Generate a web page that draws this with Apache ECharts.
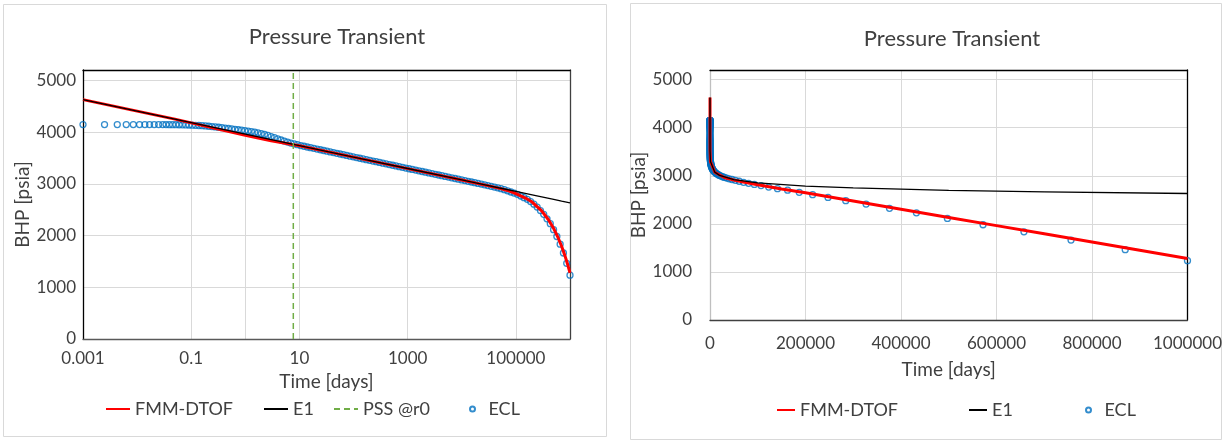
<!DOCTYPE html>
<html>
<head>
<meta charset="utf-8">
<title>Pressure Transient</title>
<script src="https://cdn.jsdelivr.net/npm/echarts@6/dist/echarts.min.js"></script>
<style>
    html, body { margin: 0; padding: 0; background: #fff; }
    #chart { width: 1225px; height: 442px; }
</style>
</head>
<body>
<div id="chart"></div>
<script>
    // ECL simulator output (time in days, BHP in psia)
    const eclTime = [
        0.001, 0.0025, 0.0043, 0.0063, 0.0085, 0.0111, 0.0139, 0.017, 0.0207, 0.025,
        0.02976, 0.03422, 0.03935, 0.04526, 0.05205, 0.05985, 0.06883, 0.07916, 0.09103,
        0.1047, 0.1204, 0.1384, 0.1592, 0.1831, 0.2105, 0.2421, 0.2784, 0.3202, 0.3682, 0.4235, 0.487, 0.56, 0.644, 0.7406, 0.8517, 0.9795,
        1.126, 1.295, 1.49, 1.713, 1.97, 2.265, 2.605, 2.996, 3.445, 3.962, 4.557, 5.24, 6.026, 6.93, 7.97, 9.165,
        10.54, 12.12, 13.94, 16.03, 18.43, 21.2, 24.38, 28.03, 32.24, 37.07, 42.63, 49.03, 56.38, 64.84, 74.57, 85.75, 98.61,
        113.4, 130.4, 150, 172.5, 198.3, 228.1, 262.3, 301.6, 346.9, 398.9, 458.7, 527.6, 606.7, 697.7, 802.3, 922.7,
        1061, 1220, 1403, 1614, 1856, 2134, 2455, 2823, 3246, 3733, 4293, 4937, 5678, 6529, 7509, 8635, 9930,
        11420, 13130, 15100, 17370, 19970, 22970, 26420, 30380, 34940, 40180, 46200, 53130, 61100, 70270, 80810, 92930,
        106900, 122900, 141300, 162500, 186900, 214900, 247200, 284300, 326900, 375900, 432300, 497200, 571800, 657500, 756100, 869600, 1000000
    ];
    const eclBhp = [
        4145, 4145, 4145, 4145, 4145, 4145, 4145, 4145, 4145, 4145,
        4145, 4145, 4144, 4144, 4143, 4142, 4141, 4139, 4137,
        4134, 4131, 4127, 4123, 4118, 4113, 4107, 4100, 4093, 4085, 4077, 4069, 4061, 4053, 4045, 4037, 4028,
        4019, 4009, 3998, 3985, 3970, 3954, 3935, 3914, 3892, 3869, 3847, 3826, 3806, 3788, 3772, 3757,
        3740, 3726, 3712, 3698, 3685, 3671, 3658, 3644, 3630, 3617, 3603, 3590, 3576, 3563, 3549, 3535, 3521,
        3508, 3494, 3481, 3467, 3454, 3440, 3427, 3413, 3399, 3386, 3372, 3359, 3345, 3332, 3318, 3305,
        3291, 3278, 3265, 3251, 3238, 3224, 3211, 3197, 3184, 3170, 3157, 3143, 3130, 3116, 3103, 3089, 3076,
        3062, 3048, 3035, 3021, 3008, 2994, 2980, 2966, 2952, 2937, 2922, 2905, 2886, 2864, 2842, 2820,
        2796, 2764, 2732, 2700, 2656, 2606, 2550, 2482, 2411, 2323, 2229, 2113, 1981, 1834, 1662, 1462, 1233
    ];

    // FMM-DTOF solution
    const fmmTime = [0.001, 0.01, 0.05, 0.1, 0.3, 1, 3, 10, 100, 1000, 10000, 30000, 50000, 70000, 100000,
        150000, 200000, 300000, 400000, 500000, 600000, 700000, 800000, 900000, 1000000];
    const fmmBhp = [4627, 4405, 4250, 4178, 4062, 3938, 3834, 3734, 3516, 3294, 3073, 2965, 2912, 2872, 2812,
        2725, 2647, 2476, 2305, 2134, 1963, 1792, 1621, 1450, 1280];

    // E1 (infinite acting) solution
    const e1Time = [0.001, 0.01, 0.1, 1, 10, 100, 1000, 10000, 20000, 50000, 100000, 200000, 300000, 500000, 700000, 1000000];
    const e1Bhp = [4627, 4405, 4183, 3962, 3740, 3518, 3296, 3075, 3008, 2919, 2853, 2786, 2747, 2698, 2665, 2631];

    // PSS @r0 marker
    const pssTime = [7.7, 7.7];
    const pssBhp = [0, 5200];

    const logTickLabels = ['0.001', '0.1', '10', '1000', '100000'];

    const zip = (xs, ys) => xs.map((x, i) => [x, ys[i]]);

    const FONT = 'Lato';
    const TXT = '#404040';
    const GRID_LINE = '#D9D9D9';
    const ECL_BLUE = '#0070C0';

    const chart = echarts.init(document.getElementById('chart'));

    // one legend per entry so each sits where Excel put it
    function legendItem (name, left, top, w, h, isLine) {
        let lg = {
            data: [name], left: left, top: top, padding: 0,
            itemWidth: w, itemHeight: h, selectedMode: false,
            textStyle: { fontFamily: FONT, fontSize: 18, color: TXT }
        };
        if (isLine) {
            lg.itemStyle = { opacity: 0 };
        }
        return lg;
    }

    function borderAxis (gridIndex, position, color) {
        return {
            gridIndex: gridIndex, type: 'value', position: position, min: 0, max: 1,
            axisLine: { show: true, onZero: false, lineStyle: { color: color, width: 1.3 } },
            axisTick: { show: false }, axisLabel: { show: false }, splitLine: { show: false }
        };
    }

    const yAxisBase = (gridIndex, margin, nameGap, lineColor) => ({
        gridIndex: gridIndex,
        type: 'value',
        min: 0,
        max: 5200,
        interval: 1000,
        name: 'BHP [psia]',
        nameLocation: 'middle',
        nameGap: nameGap,
        nameTextStyle: { fontFamily: FONT, fontSize: 19, color: TXT },
        axisLine: { show: true, onZero: false, lineStyle: { color: lineColor, width: 1.3 } },
        axisTick: { show: false },
        axisLabel: {
            margin: margin, fontFamily: FONT, fontSize: 17, color: TXT, showMaxLabel: false,
            formatter: v => String(v)
        },
        splitLine: { lineStyle: { color: GRID_LINE, width: 1 } }
    });

    const lineSeries = (name, t, p, xi, yi, style) => ({
        name: name, type: 'line', xAxisIndex: xi, yAxisIndex: yi,
        data: zip(t, p), symbol: 'none', lineStyle: style, color: style.color
    });

    const eclSeries = (xi, yi) => ({
        name: 'ECL', type: 'scatter', xAxisIndex: xi, yAxisIndex: yi,
        data: zip(eclTime, eclBhp), symbol: 'circle', symbolSize: 6,
        itemStyle: { color: 'rgba(255,255,255,0)', borderColor: ECL_BLUE, borderWidth: 1.3 }
    });

    const option = {
        animation: false,
        backgroundColor: '#fff',
        graphic: [
            { type: 'rect', shape: { x: 3.5, y: 4.5, width: 603, height: 432 }, style: { fill: 'none', stroke: GRID_LINE, lineWidth: 1 }, silent: true },
            { type: 'rect', shape: { x: 630.5, y: 3.5, width: 591, height: 436 }, style: { fill: 'none', stroke: GRID_LINE, lineWidth: 1 }, silent: true }
        ],
        title: [
            { text: 'Pressure Transient', left: 332, top: 21, textAlign: 'center',
              textStyle: { fontFamily: FONT, fontSize: 22, fontWeight: 'normal', color: TXT } },
            { text: 'Pressure Transient', left: 947, top: 23, textAlign: 'center',
              textStyle: { fontFamily: FONT, fontSize: 22, fontWeight: 'normal', color: TXT } }
        ],
        legend: [
            legendItem('FMM-DTOF', 105, 400, 24, 14, true),
            legendItem('E1', 263, 400, 24, 14, true),
            legendItem('PSS @r0', 333, 400, 24, 14, true),
            legendItem('ECL', 469, 400, 22, 5, false),
            legendItem('FMM-DTOF', 776, 401, 18, 14, true),
            legendItem('E1', 968, 401, 18, 14, true),
            legendItem('ECL', 1085, 401, 22, 5, false)
        ],
        grid: [
            { left: 83, top: 70, width: 487, height: 269 },
            { left: 710, top: 70, width: 480, height: 250 }
        ],
        xAxis: [
            {
                gridIndex: 0,
                type: 'log',
                logBase: 10,
                min: 0.001,
                max: 1000000,
                name: 'Time [days]',
                nameLocation: 'middle',
                nameGap: 33,
                nameTextStyle: { fontFamily: FONT, fontSize: 19, color: TXT },
                axisLine: { show: true, onZero: false, lineStyle: { color: '#595959', width: 1.3 } },
                axisTick: { show: false },
                axisLabel: {
                    margin: 11, fontFamily: FONT, fontSize: 17, color: TXT,
                    formatter: v => (logTickLabels.includes(String(v)) ? String(v) : '')
                },
                splitLine: {
                    lineStyle: {
                        width: 1,
                        color: ['rgba(0,0,0,0)', 'rgba(0,0,0,0)', GRID_LINE, GRID_LINE, GRID_LINE,
                            'rgba(0,0,0,0)', GRID_LINE, 'rgba(0,0,0,0)', GRID_LINE, 'rgba(0,0,0,0)']
                    }
                }
            },
            {
                gridIndex: 1,
                type: 'value',
                min: 0,
                max: 1000000,
                interval: 200000,
                name: 'Time [days]',
                nameLocation: 'middle',
                nameGap: 40,
                nameTextStyle: { fontFamily: FONT, fontSize: 19, color: TXT },
                axisLine: { show: true, onZero: false, lineStyle: { color: '#404040', width: 1.3 } },
                axisTick: { show: false },
                axisLabel: { margin: 15, fontFamily: FONT, fontSize: 17, color: TXT, formatter: v => String(v) },
                splitLine: { lineStyle: { color: GRID_LINE, width: 1 } }
            },
            borderAxis(0, 'top', '#000'),
            borderAxis(1, 'top', '#000')
        ],
        yAxis: [
            yAxisBase(0, 7, 50, '#000'),
            yAxisBase(1, 18, 41, '#BFBFBF'),
            borderAxis(0, 'right', '#404040'),
            borderAxis(1, 'right', '#000')
        ],
        series: [
            lineSeries('FMM-DTOF', fmmTime, fmmBhp, 0, 0, { color: '#FF0000', width: 3 }),
            lineSeries('E1', e1Time, e1Bhp, 0, 0, { color: '#000000', width: 1.3 }),
            lineSeries('PSS @r0', pssTime, pssBhp, 0, 0, { color: '#70AD47', width: 1.5, type: [6, 4] }),
            eclSeries(0, 0),
            lineSeries('FMM-DTOF', fmmTime, fmmBhp, 1, 1, { color: '#FF0000', width: 3 }),
            lineSeries('E1', e1Time, e1Bhp, 1, 1, { color: '#000000', width: 1.3 }),
            eclSeries(1, 1)
        ]
    };

    chart.setOption(option);
</script>
</body>
</html>
